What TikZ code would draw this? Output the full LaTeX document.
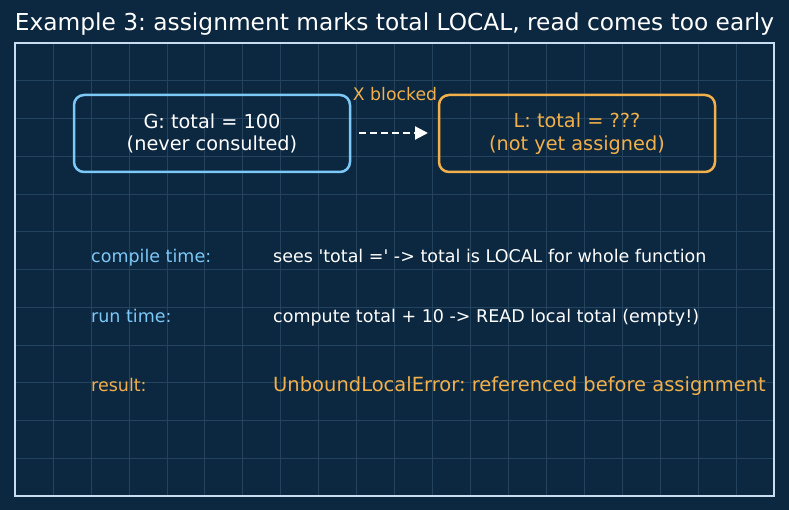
\documentclass[tikz,border=0pt]{standalone}
\usepackage{fontspec}
\setmainfont{DejaVu Sans}
\usetikzlibrary{arrows.meta}
\frenchspacing
\definecolor{bg}{HTML}{0C2740}
\definecolor{gridc}{HTML}{24435F}
\definecolor{framec}{HTML}{C8DDF0}
\definecolor{blueb}{HTML}{7CC8F7}
\definecolor{orangeb}{HTML}{F2B04A}
\tikzset{
  box/.style={draw, line width=2.5pt, rounded corners=10pt, minimum width=276pt, minimum height=77pt, align=center, font=\fontsize{19.3}{22.5}\selectfont, inner sep=0pt},
  lab/.style={anchor=base west, inner sep=0pt, font=\fontsize{17.5}{20}\selectfont},
}
\begin{document}
\begin{tikzpicture}[x=1pt,y=-1pt]
\fill[bg] (0,0) rectangle (789,510);
\useasboundingbox (0,0) rectangle (789,510);
\foreach \k in {1,...,19} \draw[gridc, line width=0.6pt] (15+37.95*\k,43) -- (15+37.95*\k,496);
\foreach \k in {1,...,11} \draw[gridc, line width=0.6pt] (15,43+37.75*\k) -- (774,43+37.75*\k);
\draw[framec, line width=1.6pt] (15,43) rectangle (774,496);
\node[white, inner sep=0pt, font=\fontsize{23.3}{26}\selectfont] (title) at (394.5,24) {Example 3: assignment marks total LOCAL, read comes too early};
\node[box, blueb, text=white] (g) at (212,133.5) {G: total = 100\\(never consulted)};
\node[box, orangeb] (l) at (577,133.5) {L: total = ???\\(not yet assigned)};
\coordinate (as) at (359,133);
\coordinate (ae) at (428,133);
\draw[white, line width=2.2pt, dash pattern=on 7pt off 4pt, -{Triangle[length=13pt,width=13pt]}] (as) -- (ae);
\node[orangeb, inner sep=0pt, font=\fontsize{17.3}{20}\selectfont] (blk) at (395,94) {X blocked};
\node[lab, blueb] (c1) at (91,263) {compile time:};
\node[lab, white] (c2) at (273,263) {sees \textquotesingle total =\textquotesingle{} -> total is LOCAL for whole function};
\node[lab, blueb] (r1) at (91,323) {run time:};
\node[lab, white] (r2) at (273,323) {compute total + 10 -> READ local total (empty!)};
\node[lab, orangeb] (s1) at (91,391) {result:};
\node[lab, orangeb, font=\fontsize{19.5}{22}\selectfont] (s2) at (273,391.5) {UnboundLocalError: referenced before assignment};
\end{tikzpicture}
\end{document}
